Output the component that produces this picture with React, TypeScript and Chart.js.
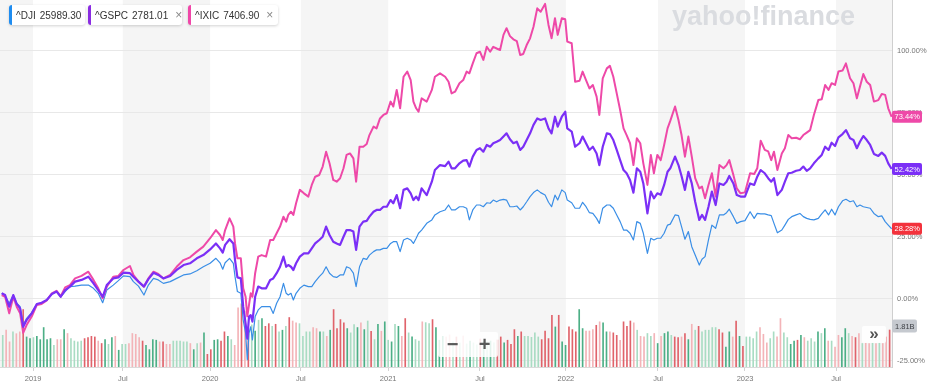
import React, { useEffect, useRef } from "react";
import { Chart, registerables } from "chart.js";

Chart.register(...registerables);

// ---- time axis (weeks since chart start) ----
const tickWeeks = [9.7, 36.0, 61.6, 88.2, 113.8, 140.7, 165.9, 192.9, 218.4, 245.1];
const tickLabels = ["2019", "Jul", "2020", "Jul", "2021", "Jul", "2022", "Jul", "2023", "Jul"];
const shadedBands = [
  [0, 9.7],
  [36.0, 61.6],
  [88.2, 113.8],
  [140.7, 165.9],
  [192.9, 218.4],
  [245.1, 261.5],
];
const weekMin = 0;
const weekMax = 261.5;

// ---- percentage axis ----
const pctMin = -27.42;
const pctMax = 120.56;
const yTicks = [-25, 0, 25, 50, 75, 100];

// ---- line series (% change) ----
const lineWeeks = [
  0.5, 1.5, 2.7, 3.9, 4.9, 5.9, 6.8, 7.8, 9.3, 10.8,
  12.2, 13.7, 15.2, 16.6, 17.8, 19.1, 20.5, 22.0, 23.9, 25.9,
  27.4, 28.8, 30.1, 31.3, 33.2, 34.7, 36.2, 38.1, 39.1, 40.6,
  42.2, 43.5, 45.0, 46.4, 47.9, 49.9, 51.8, 53.8, 55.7, 57.7,
  59.6, 61.6, 63.3, 64.5, 65.3, 66.0, 67.3, 68.4, 68.9, 69.6,
  70.6, 71.3, 72.0, 72.5, 73.0, 73.5, 74.0, 74.8, 75.7, 76.7,
  78.0, 79.2, 80.1, 81.1, 82.1, 83.1, 83.9, 84.5, 85.3, 86.0,
  86.8, 87.9, 89.1, 90.4, 91.4, 92.4, 93.6, 94.6, 95.6, 96.6,
  97.7, 98.7, 99.7, 100.7, 101.6, 102.6, 103.6, 104.4, 105.4, 106.5,
  107.5, 108.3, 109.5, 110.4, 111.4, 112.4, 113.4, 114.5, 115.3, 116.3,
  117.3, 118.3, 119.4, 120.4, 121.2, 122.0, 122.7, 123.6, 125.1, 126.6,
  127.5, 129.0, 130.5, 131.5, 132.4, 133.4, 134.7, 135.8, 136.8, 137.6,
  138.6, 139.7, 140.7, 141.7, 142.7, 143.7, 144.6, 145.6, 146.6, 147.6,
  148.5, 149.5, 150.5, 151.5, 152.5, 153.4, 154.4, 155.4, 156.4, 157.5,
  158.5, 159.8, 160.8, 161.7, 162.7, 163.5, 164.7, 165.7, 166.3, 167.6,
  168.6, 169.9, 170.8, 171.8, 172.8, 173.8, 174.9, 175.7, 176.7, 177.9,
  178.8, 179.8, 180.8, 181.8, 182.8, 183.7, 184.7, 185.7, 186.7, 187.7,
  188.6, 189.8, 190.8, 191.7, 192.7, 193.7, 194.7, 195.7, 196.5, 197.9,
  198.9, 199.8, 200.8, 201.8, 202.8, 203.8, 205.0, 205.8, 206.7, 207.7,
  208.7, 209.8, 210.9, 212.1, 213.0, 213.8, 215.0, 216.0, 217.1, 218.4,
  219.9, 221.1, 222.0, 223.0, 224.2, 225.2, 226.1, 226.9, 227.9, 229.2,
  230.1, 231.1, 232.1, 233.4, 234.5, 235.5, 236.5, 237.5, 238.6, 239.9,
  240.9, 241.9, 242.9, 243.8, 244.8, 245.8, 247.0, 248.0, 249.2, 250.2,
  251.2, 252.1, 253.1, 254.1, 255.1, 256.2, 257.5, 258.5, 259.5, 260.4,
  261.4,
];

const dji = [
  2.3, 1.1, -1.7, 1.6, -1.7, -3.1, -10.5, -7.8, -5.5, -2.0,
  -1.7, -0.4, 2.0, 3.0, 0.9, 3.0, 5.0, 5.2, 5.6, 5.6,
  4.3, 2.3, -1.5, 3.6, 5.6, 7.4, 9.3, 9.0, 7.0, 5.2,
  1.6, 5.6, 8.3, 7.7, 6.3, 7.0, 8.3, 9.7, 10.1, 11.4,
  13.0, 14.4, 16.4, 14.6, 12.0, 14.6, 16.4, 14.4, 9.0, 3.0,
  2.3, -8.5, -13.8, -24.5, -13.8, -11.2, -16.5, -7.1, -4.4, -3.1,
  -3.1, -3.1, -5.8, -1.7, 0.9, 6.3, 2.3, 1.6, 2.3, -0.4,
  2.3, 4.3, 5.6, 5.0, 5.0, 7.0, 9.0, 10.4, 13.0, 10.4,
  9.0, 8.7, 9.7, 9.7, 13.0, 12.4, 10.4, 5.0, 13.0, 16.4,
  16.0, 17.7, 19.1, 19.8, 19.8, 20.4, 20.4, 22.4, 23.1, 23.1,
  19.1, 23.8, 24.5, 23.8, 22.4, 24.5, 26.5, 27.8, 30.5, 31.9,
  33.9, 35.2, 35.9, 37.9, 35.9, 35.9, 37.2, 37.2, 36.6, 31.9,
  35.9, 37.9, 37.9, 37.2, 38.8, 38.6, 39.9, 39.2, 39.9, 40.2,
  39.9, 37.2, 37.2, 37.5, 35.9, 37.2, 39.2, 41.3, 42.9, 44.0,
  42.9, 41.9, 39.0, 37.2, 41.9, 39.9, 44.0, 42.9, 39.9, 38.8,
  36.6, 36.6, 39.0, 37.2, 34.8, 34.5, 32.5, 30.5, 36.6, 37.9,
  37.9, 36.6, 33.9, 31.2, 27.8, 27.8, 26.5, 23.8, 31.2, 30.5,
  26.5, 18.4, 24.5, 23.8, 24.5, 24.5, 26.5, 29.8, 30.2, 33.9,
  33.6, 29.2, 24.1, 27.2, 21.1, 17.7, 13.7, 16.0, 17.1, 23.8,
  29.8, 28.5, 33.9, 33.9, 34.8, 36.2, 33.2, 30.5, 31.2, 31.6,
  35.2, 32.5, 34.5, 34.3, 34.3, 33.9, 33.6, 30.5, 26.7, 27.8,
  29.8, 32.1, 33.2, 33.9, 34.5, 33.2, 32.5, 32.1, 31.9, 32.5,
  34.3, 35.9, 33.9, 36.2, 33.9, 37.2, 39.6, 40.2, 39.2, 39.6,
  37.2, 37.9, 37.2, 36.9, 36.6, 34.5, 33.2, 33.5, 31.2, 29.8,
  28.28,
];

const gspc = [
  2.3, 1.6, -3.1, 1.6, -2.0, -3.8, -11.2, -8.5, -5.8, -2.0,
  -1.5, -0.4, 2.0, 3.0, 0.9, 3.6, 5.0, 7.0, 7.7, 9.0,
  6.3, 3.6, 0.9, 5.6, 8.3, 8.7, 10.6, 10.4, 9.0, 7.0,
  5.0, 8.0, 10.6, 9.7, 8.3, 9.3, 11.7, 13.7, 14.4, 16.4,
  17.7, 20.0, 22.4, 20.4, 18.7, 21.8, 24.1, 22.4, 15.7, 8.7,
  8.3, -3.1, -9.8, -16.0, -7.1, -6.5, -9.1, 0.9, 5.0, 4.3,
  4.3, 7.7, 8.3, 10.4, 13.0, 17.1, 13.0, 13.7, 13.0, 11.7,
  14.4, 17.1, 18.4, 18.4, 20.4, 22.4, 23.8, 25.1, 29.2, 25.8,
  23.1, 22.4, 21.8, 25.1, 27.8, 27.8, 27.2, 19.8, 29.2, 31.2,
  31.5, 33.2, 35.2, 35.9, 35.9, 37.2, 37.2, 39.9, 38.6, 41.9,
  36.6, 44.0, 44.6, 42.6, 39.9, 41.3, 39.9, 44.6, 41.9, 47.3,
  52.0, 54.0, 53.6, 55.4, 52.7, 52.7, 54.7, 55.8, 56.0, 53.4,
  57.4, 60.1, 60.8, 59.4, 62.1, 61.4, 62.8, 63.4, 64.1, 65.5,
  66.8, 64.4, 62.8, 63.4, 60.1, 61.4, 64.1, 66.8, 70.2, 72.8,
  72.2, 72.8, 68.8, 66.8, 73.5, 69.5, 73.5, 75.5, 68.8, 67.5,
  61.4, 62.8, 65.5, 62.8, 60.1, 61.4, 58.7, 54.0, 61.4, 66.8,
  66.5, 64.1, 60.1, 56.0, 52.0, 50.7, 48.0, 42.9, 52.7, 51.3,
  46.6, 34.5, 43.3, 40.6, 42.6, 42.0, 46.0, 51.3, 52.7, 57.4,
  54.0, 49.6, 44.0, 51.3, 46.6, 39.2, 31.9, 33.9, 31.9, 37.2,
  43.3, 37.9, 46.6, 46.0, 47.3, 49.6, 46.6, 41.9, 41.3, 41.3,
  46.6, 46.0, 49.3, 52.0, 50.7, 48.7, 47.3, 48.7, 41.9, 44.0,
  47.3, 50.7, 50.9, 51.7, 52.0, 53.4, 51.7, 52.7, 54.7, 56.7,
  58.1, 61.4, 60.1, 63.0, 61.7, 65.2, 66.5, 68.1, 64.8, 64.1,
  60.8, 63.4, 65.7, 64.1, 62.1, 58.5, 57.7, 59.0, 57.7, 54.7,
  52.42,
];

const ixic = [
  1.6, 0.9, -5.8, 0.9, -3.1, -5.8, -13.6, -10.5, -7.1, -2.4,
  -2.0, -0.6, 2.3, 3.3, 1.1, 4.7, 5.6, 8.3, 9.3, 11.0,
  7.7, 4.3, 0.3, 5.0, 9.0, 9.3, 11.7, 13.3, 9.7, 7.0,
  5.0, 8.3, 11.0, 10.1, 8.3, 9.7, 13.0, 15.7, 16.8, 19.1,
  21.1, 24.5, 27.8, 25.8, 23.8, 27.8, 32.5, 29.2, 22.4, 16.4,
  16.4, 4.3, 0.9, -7.0, -2.4, 2.3, 0.9, 10.4, 17.1, 17.7,
  17.1, 23.8, 23.8, 26.5, 29.2, 33.2, 31.2, 33.9, 35.2, 33.9,
  38.6, 44.0, 42.6, 41.3, 46.0, 49.3, 50.0, 53.4, 59.4, 54.7,
  48.0, 47.3, 48.7, 52.7, 58.1, 58.7, 56.7, 47.3, 61.4, 61.4,
  62.5, 66.1, 69.5, 68.8, 72.8, 74.2, 74.9, 79.6, 77.6, 84.3,
  76.9, 89.6, 91.7, 88.3, 79.6, 76.9, 75.5, 80.9, 79.6, 84.3,
  89.6, 91.0, 89.6, 87.6, 82.9, 83.6, 87.0, 88.3, 91.7, 91.0,
  95.0, 99.1, 99.7, 96.4, 101.7, 99.7, 101.7, 101.0, 100.4, 106.5,
  109.2, 106.0, 104.7, 104.0, 98.4, 98.8, 102.4, 105.1, 109.8, 117.2,
  115.8, 119.0, 110.5, 105.1, 113.2, 106.5, 113.2, 112.8, 103.8, 103.1,
  87.6, 88.0, 91.7, 88.3, 84.9, 86.3, 81.6, 74.2, 89.0, 93.0,
  94.0, 89.6, 82.9, 76.2, 68.8, 66.1, 62.8, 54.0, 64.8, 62.8,
  54.7, 46.0, 58.1, 50.7, 58.1, 56.0, 62.1, 68.8, 71.8, 77.6,
  72.2, 66.1, 57.4, 65.5, 57.4, 48.7, 44.6, 45.3, 40.6, 46.0,
  50.7, 41.3, 54.0, 52.7, 54.0, 56.0, 50.0, 44.6, 42.6, 43.0,
  50.7, 50.4, 52.7, 63.8, 60.1, 59.5, 56.0, 59.4, 52.0, 58.7,
  60.8, 66.1, 64.8, 65.0, 64.4, 66.1, 67.1, 68.1, 74.2, 80.2,
  80.5, 86.3, 84.3, 87.0, 86.3, 91.7, 92.1, 95.0, 89.0, 87.0,
  80.9, 85.6, 90.7, 87.6, 86.3, 79.6, 80.2, 82.7, 82.3, 76.9,
  73.44,
];

// ---- weekly volume (billions) ----
const volumeStartWeek = 0.8;
const volumeMax = 17.95;
const volume = [
  1.55, 1.80, 1.23, 1.72, 1.63, 1.72, 2.81, 1.47, 1.39, 1.44,
  1.50, 1.34, 1.93, 1.34, 1.39, 1.06, 1.34, 1.34, 1.83, 1.64,
  1.39, 1.27, 1.23, 1.27, 1.39, 1.44, 1.50, 1.47, 1.27, 1.15,
  1.34, 1.11, 1.44, 1.50, 0.82, 1.11, 1.11, 1.15, 1.64, 1.60,
  1.44, 1.27, 1.06, 0.85, 1.34, 1.31, 1.23, 1.23, 1.11, 1.11,
  1.27, 1.27, 1.27, 1.23, 1.23, 1.15, 0.85, 1.15, 1.18, 1.67,
  0.62, 0.85, 1.31, 1.34, 1.27, 1.72, 1.50, 1.34, 1.06, 2.89,
  3.09, 2.74, 1.86, 2.06, 1.76, 2.29, 2.37, 1.99, 2.12, 1.99,
  2.09, 1.72, 1.80, 1.99, 2.42, 2.25, 2.16, 2.12, 1.50, 1.72,
  1.72, 1.93, 1.88, 1.72, 1.72, 1.50, 1.80, 2.81, 1.88, 2.32,
  2.16, 1.88, 1.67, 2.07, 1.93, 2.16, 1.83, 2.25, 1.75, 1.34,
  2.09, 1.75, 2.21, 1.31, 1.23, 2.09, 1.99, 1.50, 2.37, 1.67,
  1.47, 1.34, 1.27, 2.21, 2.17, 2.12, 2.32, 1.93, 1.31, 1.50,
  1.47, 1.57, 1.23, 1.47, 1.18, 1.52, 1.13, 1.27, 1.18, 1.08,
  1.37, 1.23, 1.23, 1.27, 1.18, 1.32, 1.47, 1.18, 1.31, 1.11,
  1.83, 1.50, 1.72, 1.50, 1.50, 1.45, 1.67, 1.47, 1.34, 1.76,
  1.39, 2.53, 1.96, 2.53, 1.23, 1.06, 1.96, 1.83, 1.72, 2.81,
  1.88, 1.76, 1.76, 1.83, 2.04, 2.21, 2.16, 1.72, 1.72, 1.67,
  1.55, 1.31, 2.21, 1.99, 2.25, 2.16, 1.80, 1.50, 1.47, 1.64,
  1.50, 1.64, 1.15, 1.50, 1.64, 1.72, 1.55, 1.47, 1.44, 1.47,
  1.64, 1.34, 2.09, 1.80, 1.99, 1.72, 1.80, 1.80, 1.93, 1.93,
  1.83, 1.67, 0.98, 1.72, 1.47, 2.25, 1.50, 1.01, 1.47, 1.47,
  1.39, 1.72, 1.93, 1.60, 1.18, 1.39, 1.72, 1.47, 2.37, 1.67,
  1.44, 1.11, 1.27, 1.31, 1.55, 1.44, 1.27, 1.39, 1.23, 1.72,
  1.64, 1.88, 1.27, 1.27, 0.98, 1.55, 1.44, 1.88, 1.64, 1.50,
  1.44, 1.64, 1.15, 1.18, 1.15, 1.18, 1.15, 1.18, 1.15, 1.47,
  1.81,
];
// G = up (strong), g = up (light), R = down (strong), r = down (light)
const volumeTone = (
  "grrgrrRGGg" + "GGGGGgrrGr" + "ggggRRRRrR" + "GgGrGggrrr" + "rRGGGGrRrr" +
  "gggggrGgrG" + "RRGGRRGgrr" + "RrRgGgGRRg" + "RgGgRrrggg" + "grrGgrGRRR" +
  "RGggGrGgRg" + "GrGgGgGrRg" + "GggrggRGGG" + "rrgRgrgGgg" + "RGgGgRRGRR" +
  "RGRgggggRR" + "RRGRGGRRRG" + "GrrrRrGGrR" + "RrRRRrgrrg" + "grGrGGgRRr" +
  "RGrgRggggg" + "RRGGrRGRgg" + "ggrrrggrrg" + "gGGRGrgggG" + "gGrgrrGGgr" +
  "Rrgrrgrgrr" + "R"
).split("");

const toneColors: Record<string, string> = {
  G: "#4caf86",
  g: "#a9dcc3",
  R: "#e0636b",
  r: "#f3b4b8",
};

const legendItems = [
  { symbol: "^DJI", price: "25989.30", color: "#1e8cf0", closable: false },
  { symbol: "^GSPC", price: "2781.01", color: "#8a2be2", closable: true },
  { symbol: "^IXIC", price: "7406.90", color: "#f046a8", closable: true },
];

const seriesStyles = [
  { label: "^IXIC", values: ixic, color: "#ee49a8", width: 2, tag: "#ee49a8" },
  { label: "^GSPC", values: gspc, color: "#7b2ff6", width: 2.2, tag: "#7b2ff6" },
  { label: "^DJI", values: dji, color: "#3a8ee6", width: 1.2, tag: "#f3323c" },
];

const FONT = "'Liberation Sans', Arial, Helvetica, sans-serif";

const bandPlugin = {
  id: "halfYearBands",
  beforeDraw(chart: any) {
    const { ctx, chartArea, scales } = chart;
    const xs = scales.x;
    ctx.save();
    ctx.fillStyle = "#f5f5f5";
    for (const [a, b] of shadedBands) {
      const x0 = xs.getPixelForValue(a);
      const x1 = xs.getPixelForValue(b);
      ctx.fillRect(x0, chartArea.top, x1 - x0, chartArea.bottom - chartArea.top);
    }
    ctx.restore();
  },
};

function roundRect(ctx: CanvasRenderingContext2D, x: number, y: number, w: number, h: number, r: number) {
  ctx.beginPath();
  ctx.moveTo(x + r, y);
  ctx.lineTo(x + w - r, y);
  ctx.quadraticCurveTo(x + w, y, x + w, y + r);
  ctx.lineTo(x + w, y + h - r);
  ctx.quadraticCurveTo(x + w, y + h, x + w - r, y + h);
  ctx.lineTo(x + r, y + h);
  ctx.quadraticCurveTo(x, y + h, x, y + h - r);
  ctx.lineTo(x, y + r);
  ctx.quadraticCurveTo(x, y, x + r, y);
  ctx.closePath();
}

const tagPlugin = {
  id: "lastValueTags",
  afterDraw(chart: any) {
    const { ctx, scales, chartArea } = chart;
    const ys = scales.y;
    const yv = scales.yv;
    const left = chartArea.right;
    ctx.save();
    ctx.font = `7.5px ${FONT}`;
    ctx.textBaseline = "middle";
    ctx.textAlign = "left";
    const lastVol = volume[volume.length - 1];
    const vy = yv.getPixelForValue(lastVol) - 4;
    roundRect(ctx, left, vy - 6.5, 25, 13, 2);
    ctx.fillStyle = "#c5c9cf";
    ctx.fill();
    ctx.fillStyle = "#3c3f44";
    ctx.fillText(`${lastVol.toFixed(2)}B`, left + 3, vy + 0.5);
    for (const s of seriesStyles) {
      const v = s.values[s.values.length - 1];
      const py = ys.getPixelForValue(v);
      roundRect(ctx, left, py - 6, 30, 12, 2);
      ctx.fillStyle = s.tag;
      ctx.fill();
      ctx.fillStyle = "#ffffff";
      ctx.fillText(`${v.toFixed(2)}%`, left + 2.5, py + 0.5);
    }
    ctx.restore();
  },
};

function ChartCanvas() {
  const ref = useRef<HTMLCanvasElement | null>(null);
  useEffect(() => {
    if (!ref.current) return;
    const lineSets = seriesStyles.map((s) => ({
      type: "line" as const,
      label: s.label,
      data: lineWeeks.map((w, k) => ({ x: w, y: s.values[k] })),
      borderColor: s.color,
      backgroundColor: s.color,
      borderWidth: s.width,
      pointRadius: 0,
      tension: 0,
      borderJoinStyle: "round" as const,
      yAxisID: "y",
      order: s.label === "^GSPC" ? 1 : s.label === "^IXIC" ? 2 : 3,
    }));
    const chart = new Chart(ref.current, {
      type: "line",
      data: {
        datasets: [
          {
            type: "bar",
            label: "Volume",
            data: volume.map((v, i) => ({ x: volumeStartWeek + i, y: v })),
            backgroundColor: volumeTone.map((t) => toneColors[t]),
            barThickness: 1,
            yAxisID: "yv",
            order: 10,
          } as any,
          ...lineSets,
        ],
      },
      options: {
        animation: false,
        responsive: false,
        maintainAspectRatio: false,
        layout: { padding: 0 },
        plugins: {
          legend: { display: false },
          tooltip: { enabled: false },
        },
        events: [],
        scales: {
          x: {
            type: "linear",
            position: "bottom",
            offset: false,
            min: weekMin,
            max: weekMax,
            afterBuildTicks: (s: any) => {
              s.ticks = tickWeeks.map((v) => ({ value: v }));
            },
            afterFit: (s: any) => {
              s.height = 18;
              s.paddingLeft = 0;
              s.paddingRight = 0;
            },
            ticks: {
              autoSkip: false,
              maxRotation: 0,
              minRotation: 0,
              padding: 3,
              color: "#777777",
              font: { size: 7.5, family: FONT },
              callback: (v: any) => tickLabels[tickWeeks.indexOf(Number(v))] ?? "",
            },
            grid: {
              offset: false,
              drawOnChartArea: false,
              drawTicks: true,
              tickLength: 4,
              color: "#d3d3d3",
            },
            border: { display: true, color: "#dadada" },
          },
          y: {
            type: "linear",
            position: "right",
            min: pctMin,
            max: pctMax,
            afterBuildTicks: (s: any) => {
              s.ticks = yTicks.map((v) => ({ value: v }));
            },
            afterFit: (s: any) => {
              s.width = 46;
              s.paddingTop = 0;
              s.paddingBottom = 0;
            },
            ticks: {
              padding: 5,
              color: "#777777",
              font: { size: 7.5, family: FONT },
              callback: (v: any) => `${Number(v).toFixed(2)}%`,
            },
            grid: { drawTicks: false, color: "#e8e8e8", lineWidth: 1 },
            border: { display: true, color: "#cfcfcf" },
          },
          yv: {
            type: "linear",
            display: false,
            min: 0,
            max: volumeMax,
          },
        },
      } as any,
      plugins: [bandPlugin, tagPlugin],
    });
    return () => chart.destroy();
  }, []);
  return <canvas ref={ref} width={938} height={385} style={{ display: "block", width: 938, height: 385 }} />;
}

const chipLefts = [9, 88, 188];
const chipWidths = [76, 94, 90];

export default function App() {
  return (
    <div
      style={{
        position: "fixed",
        left: 0,
        top: 0,
        width: 938,
        height: 385,
        background: "#ffffff",
        overflow: "hidden",
        fontFamily: FONT,
      }}
    >
      <ChartCanvas />
      <div
        style={{
          position: "absolute",
          left: 672,
          top: 3,
          fontSize: 27,
          fontWeight: 700,
          lineHeight: "27px",
          color: "#dadce0",
          whiteSpace: "nowrap",
          pointerEvents: "none",
        }}
      >
        yahoo!finance
      </div>
      {legendItems.map((it, i) => (
        <div
          key={it.symbol}
          style={{
            position: "absolute",
            left: chipLefts[i],
            top: 5,
            width: chipWidths[i],
            height: 20,
            boxSizing: "border-box",
            background: "#ffffff",
            borderLeft: `3px solid ${it.color}`,
            borderRadius: 3,
            boxShadow: "0 1px 3px rgba(0,0,0,0.18)",
            display: "flex",
            alignItems: "center",
            paddingLeft: 4,
            fontSize: 10,
            color: "#333333",
            whiteSpace: "nowrap",
          }}
        >
          <span>{it.symbol}</span>
          <span style={{ marginLeft: 4 }}>{it.price}</span>
          {it.closable ? (
            <span style={{ marginLeft: 7, color: "#8a8a8a", fontSize: 12 }}>×</span>
          ) : null}
        </div>
      ))}
      <div
        style={{
          position: "absolute",
          left: 438,
          top: 332,
          width: 60,
          height: 25,
          background: "rgba(255,255,255,0.85)",
          borderRadius: 2,
        }}
      >
        <span
          style={{
            position: "absolute",
            left: 8,
            top: 1,
            width: 13,
            textAlign: "center",
            fontSize: 20,
            fontWeight: 700,
            color: "#5a5a5a",
            lineHeight: "22px",
          }}
        >
          −
        </span>
        <span
          style={{
            position: "absolute",
            left: 40,
            top: 1,
            width: 13,
            textAlign: "center",
            fontSize: 20,
            fontWeight: 700,
            color: "#5a5a5a",
            lineHeight: "22px",
          }}
        >
          +
        </span>
      </div>
      <div
        style={{
          position: "absolute",
          left: 862,
          top: 326,
          width: 24,
          height: 17,
          background: "rgba(255,255,255,0.88)",
          borderRadius: 2,
          textAlign: "center",
          fontSize: 17,
          lineHeight: "16px",
          color: "#555555",
          fontWeight: 700,
        }}
      >
        »
      </div>
    </div>
  );
}
